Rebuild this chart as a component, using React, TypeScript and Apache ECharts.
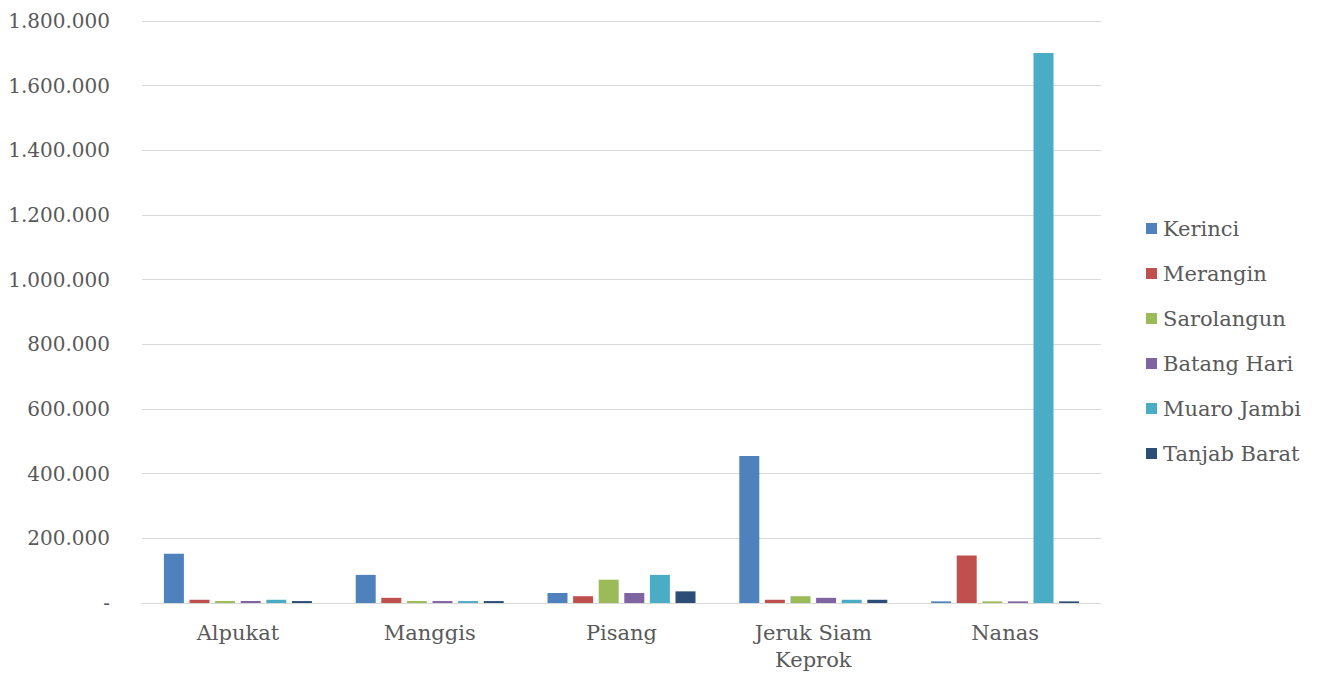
import React, { useEffect, useRef } from "react";
import * as echarts from "echarts";

// Fruit commodities along the x axis
const categories = ["Alpukat", "Manggis", "Pisang", "Jeruk Siam\nKeprok", "Nanas"];

// Regencies (one bar series each)
const regencies = ["Kerinci", "Merangin", "Sarolangun", "Batang Hari", "Muaro Jambi", "Tanjab Barat"];

// Values per regency, ordered as the categories above
const kerinci = [152000, 87000, 31000, 455000, 5000];
const merangin = [10000, 16000, 21000, 10000, 147000];
const sarolangun = [6000, 6000, 72000, 21000, 5000];
const batangHari = [6000, 6000, 31000, 16000, 5000];
const muaroJambi = [10000, 6000, 87000, 10000, 1701000];
const tanjabBarat = [6000, 6000, 36000, 10000, 5000];

const seriesValues = [kerinci, merangin, sarolangun, batangHari, muaroJambi, tanjabBarat];
const colors = ["#4F81BD", "#C0504D", "#9BBB59", "#8064A2", "#4BACC6", "#2C4D75"];

const fontFamily = "'DejaVu Serif', serif";
const textColor = "#595959";

const formatThousands = (v: number) =>
  v === 0 ? "-" : String(Math.round(v)).replace(/\B(?=(\d{3})+(?!\d))/g, ".");

export default function App() {
  const ref = useRef<HTMLDivElement>(null);

  useEffect(() => {
    if (!ref.current) return;
    const chart = echarts.init(ref.current, null, { renderer: "svg" });
    chart.setOption({
      animation: false,
      backgroundColor: "#ffffff",
      textStyle: { fontFamily },
      grid: { left: 142, right: 224, top: 21, bottom: 72, containLabel: false },
      legend: {
        orient: "vertical",
        left: 1146,
        top: 216,
        padding: 0,
        itemWidth: 11,
        itemHeight: 11,
        itemGap: 20,
        icon: "rect",
        data: regencies,
        textStyle: { fontFamily, fontSize: 21, lineHeight: 25, color: textColor, padding: [0, 0, 0, 1] },
      },
      xAxis: {
        type: "category",
        data: categories,
        axisLine: { show: true, lineStyle: { color: "#d9d9d9", width: 1 } },
        axisTick: { show: false },
        axisLabel: {
          margin: 16,
          fontFamily,
          fontSize: 21,
          lineHeight: 27,
          color: textColor,
        },
      },
      yAxis: {
        type: "value",
        min: 0,
        max: 1800000,
        interval: 200000,
        axisLine: { show: false },
        axisTick: { show: false },
        splitLine: { lineStyle: { color: "#d9d9d9", width: 1 } },
        axisLabel: {
          margin: 32,
          fontFamily,
          fontSize: 20,
          color: textColor,
          formatter: (v: number) => formatThousands(v),
        },
      },
      series: regencies.map((name, i) => ({
        name,
        type: "bar",
        data: seriesValues[i],
        barWidth: 20,
        barGap: "28%",
        itemStyle: { color: colors[i] },
      })),
    });
    return () => chart.dispose();
  }, []);

  return (
    <div
      ref={ref}
      style={{ position: "fixed", left: 0, top: 0, width: 1325, height: 675 }}
    />
  );
}
